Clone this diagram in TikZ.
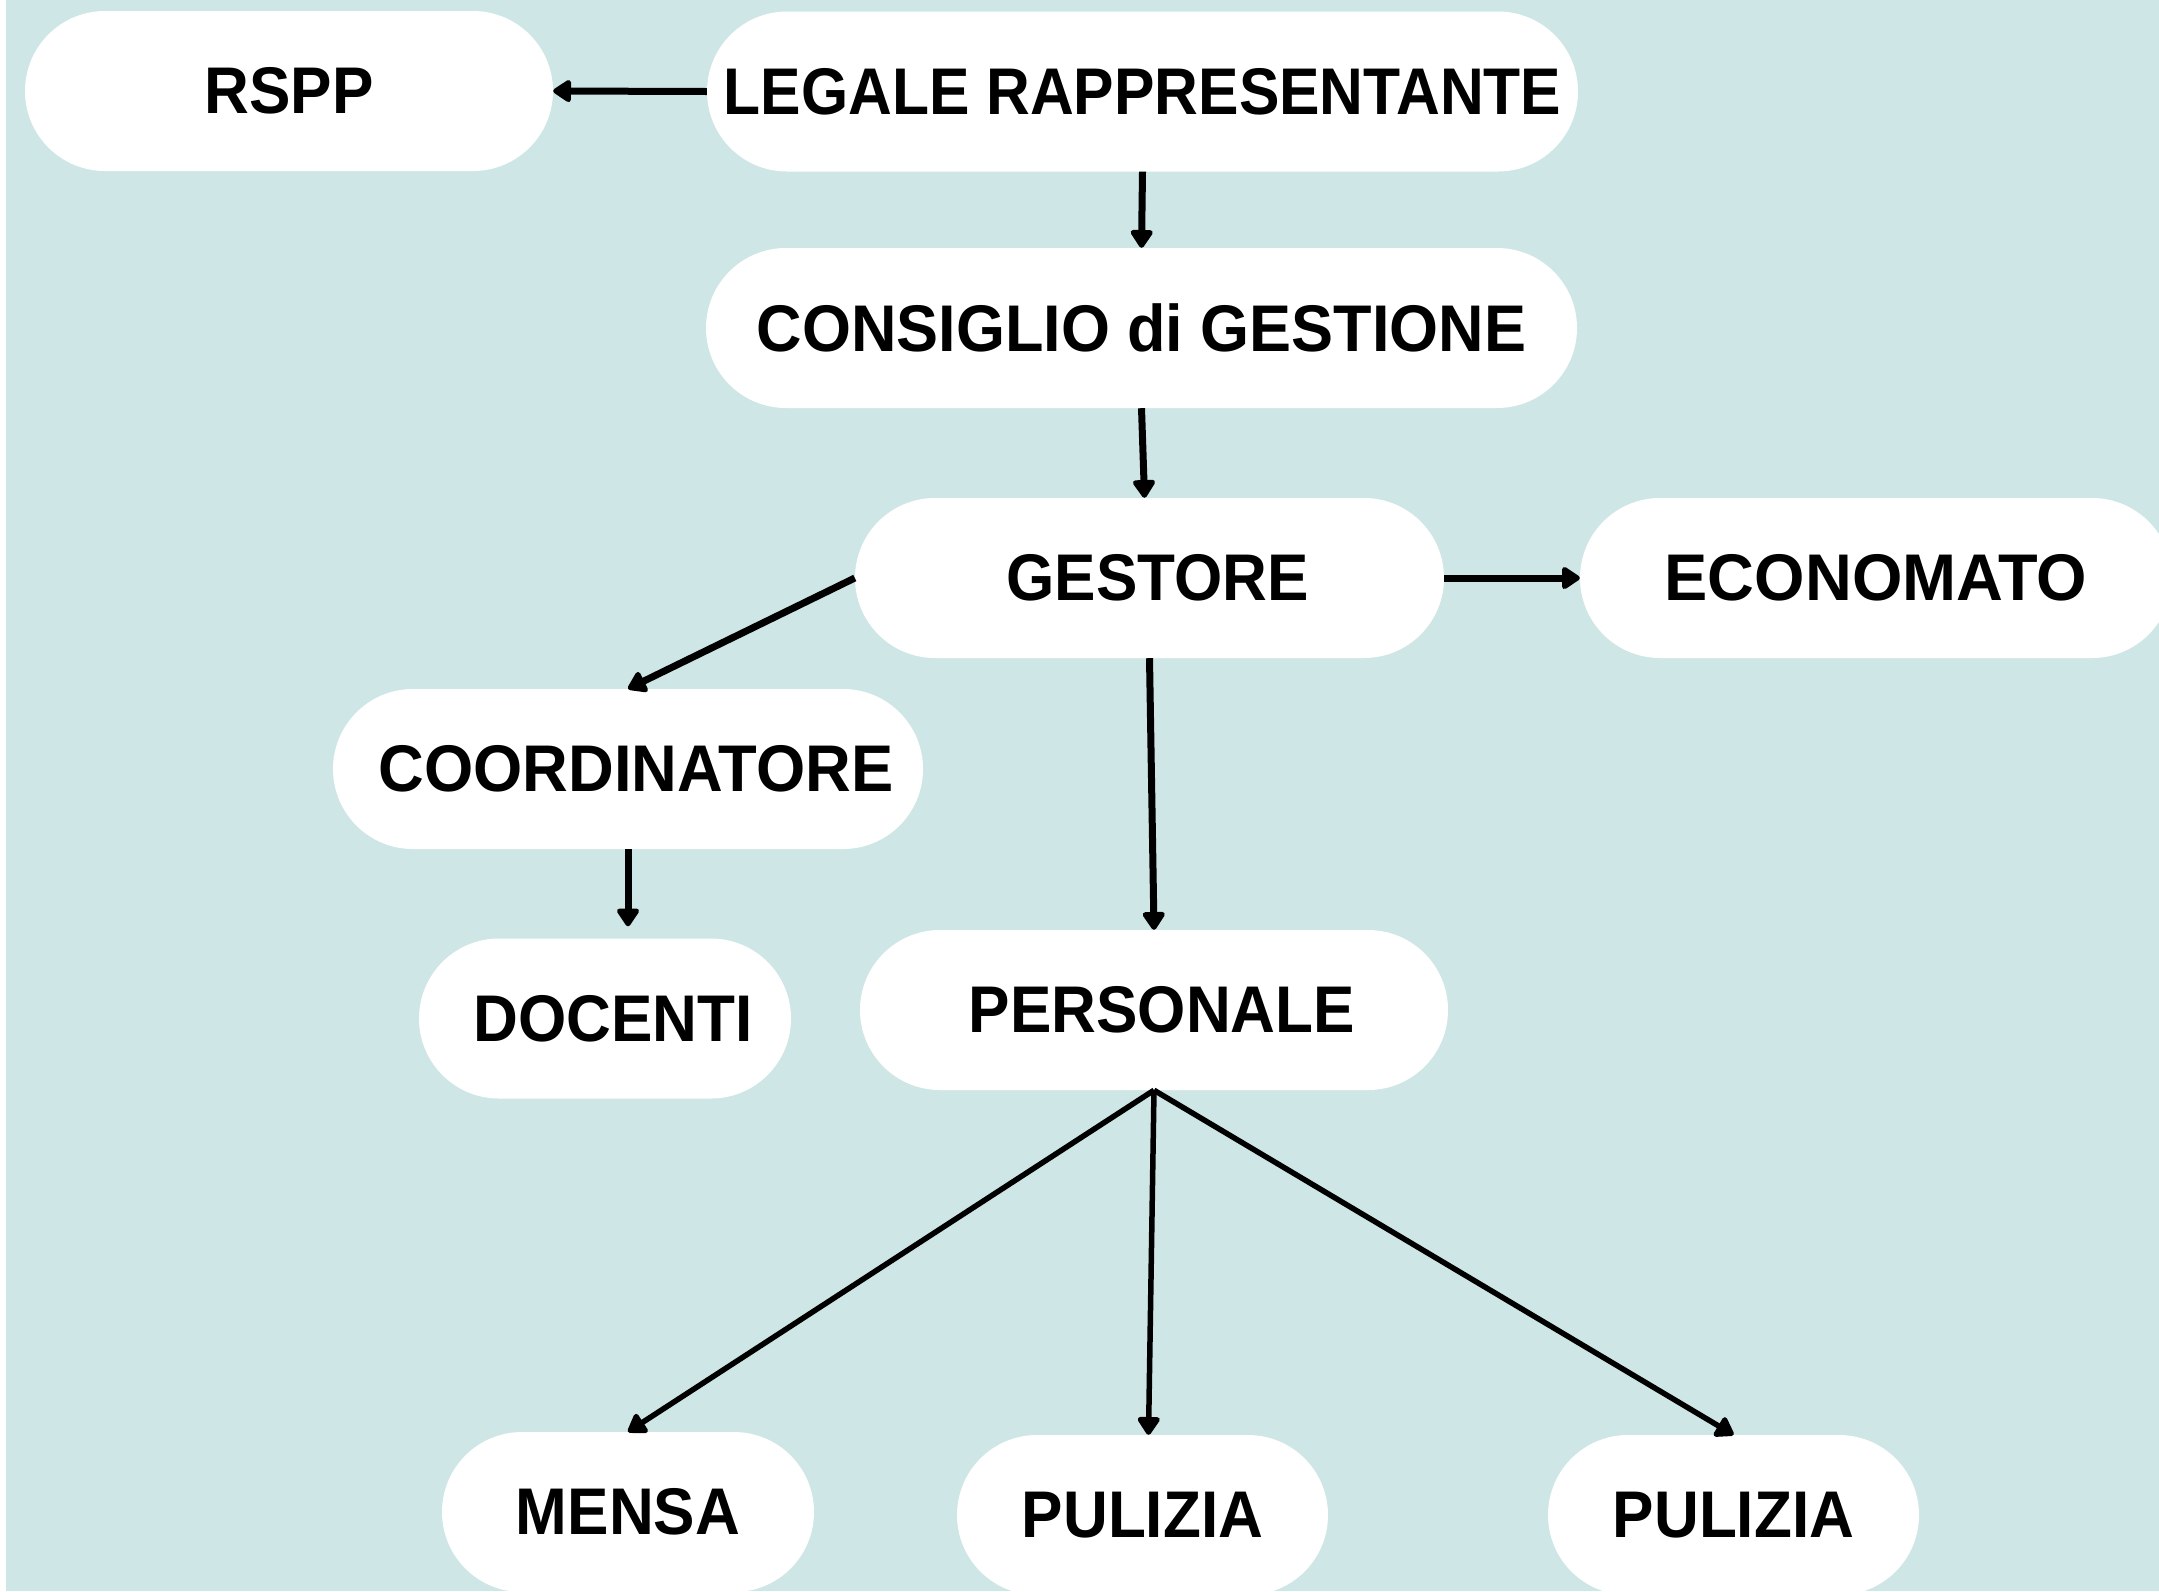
\documentclass[tikz,border=0pt]{standalone}
\usepackage{fontspec}
\setmainfont{Liberation Sans}[FakeStretch=0.94]
\usetikzlibrary{arrows.meta,calc}
\definecolor{bgteal}{RGB}{207,230,230}
\begin{document}
\begin{tikzpicture}[x=1pt,y=-1pt,
  pill/.style={fill=white, rounded corners=80pt, minimum height=160pt, inner sep=0pt,
    font=\fontsize{66}{70}\selectfont\bfseries, text=black},
  conn/.style={line width=7pt, -{Triangle[length=20pt,width=25pt,round]}},
  fan/.style={line width=5.5pt, -{Triangle[length=20pt,width=25pt,round]}}]
\fill[white] (0,0) rectangle (2159,1591);
\fill[bgteal] (6,0) rectangle (2159,1591);
\useasboundingbox (0,0) rectangle (2159,1591);

\node[pill, minimum width=528pt] (rspp) at (289,91) {RSPP};
\node[pill, minimum width=871pt] (legale) at (1142.5,91.5) {\scalebox{0.977}[1]{LEGALE RAPPRESENTANTE}};
\node[pill, minimum width=871pt] (consiglio) at (1141.5,328) {\scalebox{1.015}[1]{CONSIGLIO di GESTIONE}};
\node[pill, minimum width=589pt] (gestore) at (1149.5,578) {\hspace*{16pt}GESTORE};
\node[pill, minimum width=592pt] (economato) at (1876,578) {\scalebox{1.045}[1]{ECONOMATO}};
\node[pill, minimum width=590pt] (coord) at (628,769) {\hspace*{16pt}\scalebox{1.02}[1]{COORDINATORE}};
\node[pill, minimum width=372pt] (docenti) at (605,1018.5) {\hspace*{16pt}DOCENTI};
\node[pill, minimum width=588pt] (personale) at (1154,1010) {\hspace*{16pt}PERSONALE};
\node[pill, minimum width=372pt] (mensa) at (628,1512) {MENSA};
\node[pill, minimum width=371pt] (pulizia1) at (1142.5,1515) {PULIZIA};
\node[pill, minimum width=371pt] (pulizia2) at (1733.5,1515) {PULIZIA};

\draw[conn] (legale.west) -- (rspp.east);
\draw[conn] (legale.south) -- (consiglio.north);
\draw[conn] (consiglio.south) -- ($(gestore.north)+(-5,0)$);
\draw[conn] (gestore.east) -- (economato.west);
\draw[conn] (gestore.west) -- (coord.north);
\draw[conn] (gestore.south) -- (personale.north);
\draw[conn, shorten >=12pt] (coord.south) -- (coord.south |- docenti.north);
\draw[fan] (personale.south) -- (mensa.north);
\draw[fan] (personale.south) -- ($(pulizia1.north)+(6,0)$);
\draw[fan] (personale.south) -- (pulizia2.north);
\end{tikzpicture}
\end{document}
